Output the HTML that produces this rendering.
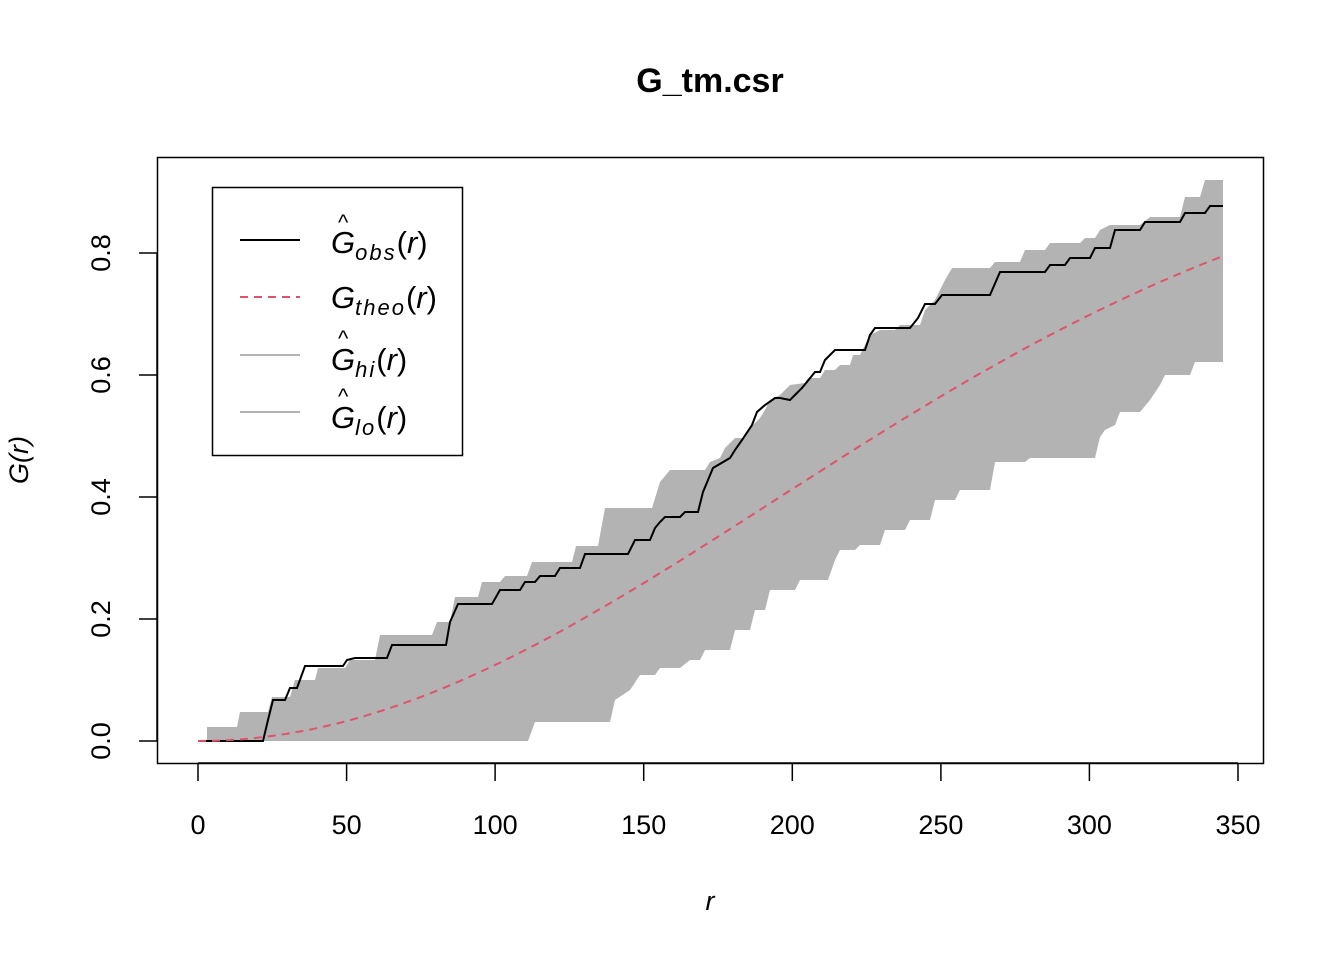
<!DOCTYPE html>
<html><head><meta charset="utf-8"><style>
body{margin:0;background:#fff}
svg text{font-family:"Liberation Sans",Arial,sans-serif;fill:#000}
</style></head><body>
<svg id="s" width="1344" height="960" xmlns="http://www.w3.org/2000/svg">
<text x="710" y="92" font-size="34" font-weight="bold" text-anchor="middle">G_tm.csr</text>
<polygon fill="#b3b3b3" points="198,741 207,741 207,727 237,727 240,712 268,712 272,697 290,697 295,680 315,680 318,668 345,668 350,660 375,660 380,635 432,635 437,622 450,622 455,597 478,597 482,582 500,582 505,576 527,576 532,562 572,562 576,546 598,546 605,508 652,508 660,482 670,470 705,470 710,462 720,458 725,448 735,438 745,438 750,428 760,418 765,410 770,400 780,395 790,385 805,383 808,378 820,378 825,370 835,370 840,365 850,365 853,355 860,355 865,345 870,335 880,330 895,330 900,325 920,325 925,310 935,300 940,290 945,280 952,268 990,268 995,262 1020,262 1025,250 1045,250 1050,243 1080,243 1085,238 1095,238 1100,230 1110,225 1140,225 1150,217 1180,217 1185,197 1200,197 1205,180 1223,180 1223,362 1195,362 1190,375 1165,375 1160,385 1150,400 1140,412 1120,412 1115,425 1105,430 1100,437 1095,458 1030,458 1025,462 995,462 990,490 960,490 955,500 935,500 930,520 910,520 905,530 885,530 880,545 860,545 855,550 840,550 835,560 828,580 800,580 795,590 770,590 765,610 755,610 750,630 735,630 730,650 705,650 700,660 690,660 680,668 660,668 655,675 640,675 630,690 615,700 610,722 535,722 528,741"/>
<polyline fill="none" stroke="#000" stroke-width="2" points="198,741 263,741 268,720 273,700 285,700 290,688 297,688 305,666 343,666 347,660 355,658 387,658 392,645 446,645 450,622 458,604 492,604 500,590 520,590 525,582 535,582 540,576 555,576 560,568 580,568 585,554 628,554 635,540 650,540 655,528 660,522 665,517 680,517 685,512 698,512 703,492 708,480 713,468 730,458 735,450 742,440 752,425 757,412 765,405 775,398 780,398 790,400 802,388 815,372 820,372 825,360 835,350 865,350 870,335 875,328 910,328 918,318 925,304 935,304 942,295 990,295 1000,272 1045,272 1050,265 1065,265 1070,258 1090,258 1095,248 1110,248 1115,230 1140,230 1145,222 1180,222 1185,213 1205,213 1210,206 1223,206"/>
<polyline id="theo" fill="none" stroke="#DF536B" stroke-width="2" stroke-dasharray="8,6" points=""/>
<rect x="157.5" y="157.5" width="1106" height="606" fill="none" stroke="#000" stroke-width="1.5"/>
<g stroke="#000" stroke-width="1.5">
<line x1="198" y1="763" x2="1238" y2="763"/>
<line x1="198" y1="763" x2="198" y2="781"/><line x1="346.6" y1="763" x2="346.6" y2="781"/>
<line x1="495.1" y1="763" x2="495.1" y2="781"/><line x1="643.7" y1="763" x2="643.7" y2="781"/>
<line x1="792.3" y1="763" x2="792.3" y2="781"/><line x1="940.9" y1="763" x2="940.9" y2="781"/>
<line x1="1089.4" y1="763" x2="1089.4" y2="781"/><line x1="1238" y1="763" x2="1238" y2="781"/>
<line x1="157" y1="253" x2="157" y2="741"/>
<line x1="139" y1="741" x2="157" y2="741"/><line x1="139" y1="619" x2="157" y2="619"/>
<line x1="139" y1="497" x2="157" y2="497"/><line x1="139" y1="375" x2="157" y2="375"/>
<line x1="139" y1="253" x2="157" y2="253"/>
</g>
<g font-size="27" text-anchor="middle">
<text x="198" y="834">0</text><text x="346.6" y="834">50</text><text x="495.1" y="834">100</text>
<text x="643.7" y="834">150</text><text x="792.3" y="834">200</text><text x="940.9" y="834">250</text>
<text x="1089.4" y="834">300</text><text x="1238" y="834">350</text>
<text transform="translate(110,741) rotate(-90)">0.0</text>
<text transform="translate(110,619) rotate(-90)">0.2</text>
<text transform="translate(110,497) rotate(-90)">0.4</text>
<text transform="translate(110,375) rotate(-90)">0.6</text>
<text transform="translate(110,253) rotate(-90)">0.8</text>
<text x="710" y="910" font-style="italic">r</text>
<text transform="translate(28,460) rotate(-90)" font-style="italic">G(r)</text>
</g>
<rect x="212.5" y="187.5" width="250" height="268" fill="#fff" stroke="#000" stroke-width="1.5"/>
<line x1="240" y1="240" x2="300" y2="240" stroke="#000" stroke-width="2"/>
<line x1="240" y1="297" x2="300" y2="297" stroke="#DF536B" stroke-width="2" stroke-dasharray="8,6"/>
<line x1="240" y1="355" x2="300" y2="355" stroke="#b3b3b3" stroke-width="2"/>
<line x1="240" y1="412" x2="300" y2="412" stroke="#b3b3b3" stroke-width="2"/>
<g font-size="31" font-style="italic">
<text x="331" y="253">G<tspan font-size="22" dy="7" letter-spacing="2">obs</tspan><tspan dy="-7" font-style="normal">(</tspan>r<tspan font-style="normal">)</tspan></text>
<text x="338" y="230" font-size="22" font-style="normal">^</text>
<text x="331" y="308">G<tspan font-size="22" dy="7" letter-spacing="2">theo</tspan><tspan dy="-7" font-style="normal">(</tspan>r<tspan font-style="normal">)</tspan></text>
<text x="331" y="370">G<tspan font-size="22" dy="7" letter-spacing="2">hi</tspan><tspan dy="-7" font-style="normal">(</tspan>r<tspan font-style="normal">)</tspan></text>
<text x="338" y="346" font-size="22" font-style="normal">^</text>
<text x="331" y="428">G<tspan font-size="22" dy="7" letter-spacing="2">lo</tspan><tspan dy="-7" font-style="normal">(</tspan>r<tspan font-style="normal">)</tspan></text>
<text x="338" y="404" font-size="22" font-style="normal">^</text>
</g>
</svg>
<script>
var k=1.3317e-5,p=[];
for(var r=0;r<=345;r+=3){var g=1-Math.exp(-k*r*r);p.push((198+r*2.9714).toFixed(1)+","+(741-g*610).toFixed(1));}
document.getElementById("theo").setAttribute("points",p.join(" "));
</script>
</body></html>
